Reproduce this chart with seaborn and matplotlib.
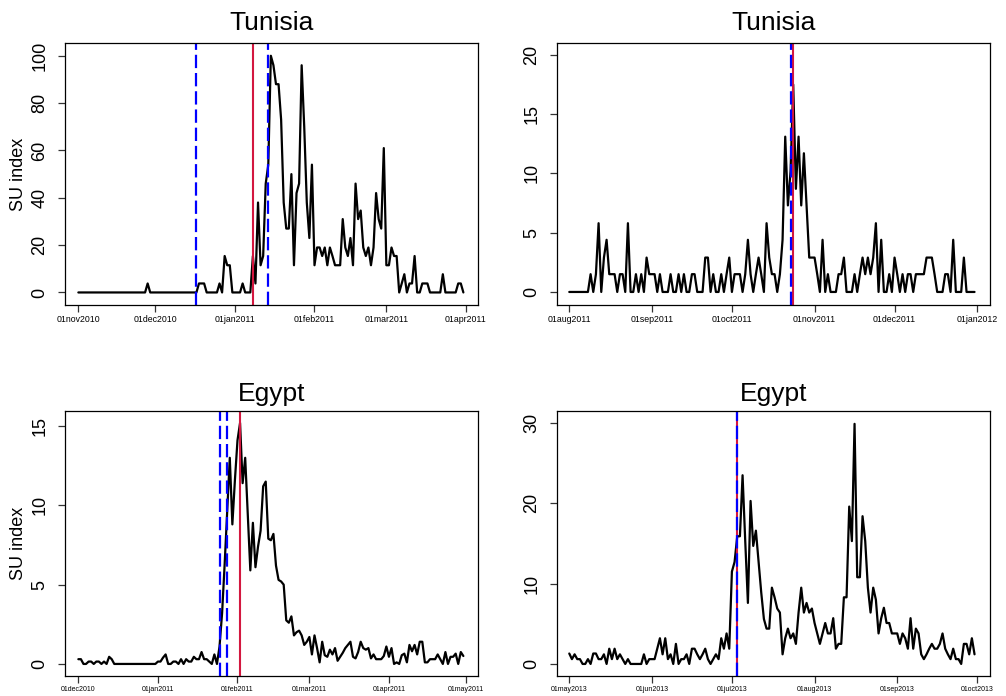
import numpy as np
import pandas as pd
import matplotlib
matplotlib.use("Agg")
import matplotlib.pyplot as plt
import seaborn as sns

# ---- data (daily SU index) ----
tun1_start = "2010-11-01"
tun1_vals = ([0.0] * 27 + [3.8] + [0.0] * 19 +
             [3.8, 3.8, 3.8, 0, 0, 0, 0, 0, 3.8, 0, 15.4, 11.5, 11.5, 0, 0, 0, 0, 3.8, 0, 0, 0,
              15.4, 3.8, 38, 11.5, 15.4, 46, 54, 100, 96, 88, 88, 73, 38, 27, 27, 50, 11.5, 42, 46,
              96, 70, 38, 23, 54, 11.5, 19, 19, 15.4, 19, 11.5, 19, 15.4, 11.5, 11.5, 11.5, 31, 19,
              15.4, 23, 11.5, 46, 31, 34.6, 19, 15.4, 19, 11.5, 19, 42, 31, 27, 61, 11.5, 11.5, 19,
              15.4, 15.4, 0, 3.8, 7.7, 0, 3.8, 3.8, 15.4, 0, 0, 3.8, 3.8, 3.8, 0, 0, 0, 0, 0, 7.7,
              0, 0, 0, 0, 0, 3.8, 3.8, 0])
tun1_blue = ["2010-12-17", "2011-01-14"]
tun1_red = ["2011-01-08"]
tun1_ticks = ["2010-11-01", "2010-12-01", "2011-01-01", "2011-02-01", "2011-03-01", "2011-04-01"]

tun2_start = "2011-08-01"
tun2_vals = ([0.0] * 8 +
             [1.5, 0, 1.5, 5.8, 0, 2.9, 4.4, 1.5, 1.5, 1.5, 0, 1.5, 1.5, 0, 5.8, 0, 0, 1.5, 0, 1.5,
              0, 2.9, 1.5, 1.5, 1.5, 0, 1.5, 0, 0, 0, 1.5, 0, 0, 1.5, 0, 1.5, 0, 0, 1.5, 1.5, 0, 0,
              0, 2.9, 2.9, 0, 1.5, 0, 0, 1.5, 0, 1.5, 2.9, 0, 1.5, 1.5, 1.5, 0, 1.5, 4.4, 1.5, 0,
              1.5, 2.9, 1.5, 0, 5.8, 2.9, 1.5, 1.5, 0, 1.5, 4.4, 13.1, 7.3, 10.2, 17.5, 8.7, 13.1,
              7.3, 11.7, 7.3, 2.9, 2.9, 2.9, 1.5, 0, 4.4, 0, 1.5, 0, 0, 0, 1.5, 1.5, 2.9, 0, 0, 0,
              1.5, 0, 1.5, 2.9, 1.5, 2.9, 1.5, 2.9, 5.8, 0, 4.4, 0, 0, 1.5, 0, 2.9, 1.5, 0, 1.5, 0,
              1.5, 1.5, 0, 1.5, 1.5, 1.5, 1.5, 2.9, 2.9, 2.9, 1.5, 0, 0, 0, 1.5, 1.5, 0, 4.4, 0, 0,
              0, 2.9, 0, 0, 0, 0])
tun2_blue = ["2011-10-23"]
tun2_red = ["2011-10-24"]
tun2_ticks = ["2011-08-01", "2011-09-01", "2011-10-01", "2011-11-01", "2011-12-01", "2012-01-01"]

egy1_start = "2010-12-01"
egy1_vals = ([0.3, 0.3, 0, 0, 0.15, 0.15, 0, 0.15, 0.15, 0, 0.15, 0, 0.45, 0.3] + [0.0] * 17 +
             [0.15, 0.15, 0.4, 0.6, 0, 0, 0.15, 0.15, 0, 0.3, 0, 0.3, 0.15, 0.15, 0.45, 0.3, 0.3,
              0.75, 0.3, 0.3, 0.15, 0, 0.6, 0, 1.1, 3.2, 6.3, 9.7, 13.0, 8.8, 11.6, 14.1, 15.2, 11.4,
              13.0, 9.5, 5.9, 8.9, 6.1, 7.4, 8.4, 11.2, 11.5, 7.9, 7.8, 8.2, 6.2, 5.3, 5.2, 5.0,
              2.75, 2.6, 3.0, 1.8, 2.0, 2.1, 1.8, 1.2, 1.4, 1.7, 0.6, 1.8, 1.0, 0.1, 1.4, 0.55,
              0.45, 0.9, 0.6, 1.0, 0.2, 0.45, 0.7, 1.0, 1.2, 1.4, 0.45, 0.35, 0.75, 1.4, 1.0, 0.9,
              1.0, 0.35, 0.6, 0.3, 0.3, 0.3, 0.5, 1.1, 0.45, 1.0, 0, 0.1, 0, 0.55, 0.65, 0.1, 1.2,
              0.8, 1.2, 0.6, 1.4, 1.4, 0.1, 0.1, 0.3, 0.3, 0.3, 0.6, 0.3, 0, 0.75, 0, 0.45, 0.45,
              0.65, 0, 0.75, 0.5])
egy1_blue = ["2011-01-25", "2011-01-28"]
egy1_red = ["2011-02-02"]
egy1_ticks = ["2010-12-01", "2011-01-01", "2011-02-01", "2011-03-01", "2011-04-01", "2011-05-01"]

egy2_start = "2013-05-01"
egy2_vals = [1.3, 0.6, 1.2, 0.6, 0.6, 0, 0, 0.6, 0, 1.3, 1.3, 0.6, 0.6, 1.2, 0, 1.9, 0.6, 1.9,
             0.6, 1.2, 0.6, 0, 0.6, 0, 0, 0, 0, 0, 1.2, 0, 0.6, 0.6, 0.6, 1.9, 3.2, 1.2, 3.2, 0.6,
             1.2, 0, 2.5, 0, 0.6, 0.6, 1.2, 0, 1.9, 1.9, 1.2, 0.6, 1.2, 1.9, 0.6, 0, 0.6, 1.2,
             0.6, 3.2, 1.9, 3.8, 1.9, 11.5, 12.7, 15.9, 15.9, 23.5, 15.3, 7.6, 20.3, 14.7, 16.6,
             12.7, 8.9, 5.6, 4.4, 4.4, 9.5, 8.3, 6.9, 6.4, 1.2, 3.2, 4.4, 3.2, 3.8, 2.5, 6.4, 9.5,
             6.4, 7.6, 6.4, 6.9, 5.1, 3.8, 2.5, 3.8, 5.1, 3.8, 3.8, 5.7, 1.9, 2.5, 2.5, 8.3, 8.3,
             19.6, 15.3, 29.9, 10.8, 10.8, 18.4, 15.3, 9.5, 6.4, 9.5, 8.0, 3.8, 5.7, 7.0, 5.1, 5.1,
             3.8, 3.8, 3.8, 2.5, 3.8, 3.2, 1.9, 5.7, 1.9, 4.4, 3.8, 1.2, 0.6, 1.2, 1.9, 2.5, 1.9,
             1.9, 2.5, 3.8, 1.9, 1.2, 0.6, 1.9, 0.6, 0.6, 0, 2.5, 2.5, 1.2, 3.2, 1.2]
egy2_blue = ["2013-07-03"]
egy2_red = ["2013-07-03"]
egy2_ticks = ["2013-05-01", "2013-06-01", "2013-07-01", "2013-08-01", "2013-09-01", "2013-10-01"]

titles = ["Tunisia", "Tunisia", "Egypt", "Egypt"]

sns.set_style("ticks")
plt.rcParams["font.family"] = ["Liberation Sans", "DejaVu Sans"]
plt.rcParams["text.color"] = "black"
plt.rcParams["axes.labelcolor"] = "black"
plt.rcParams["xtick.color"] = "black"
plt.rcParams["ytick.color"] = "black"

W, H = 1006, 696
fig = plt.figure(figsize=(W / 100, H / 100), dpi=100)

# axes boxes in pixels: left, top, right, bottom
boxes = [(65, 43, 478, 305), (557, 43, 990, 305), (65, 411, 478, 676), (557, 411, 990, 676)]
xlims = [(-5.2, 155.7), (-4.6, 157.8), (-5.2, 155.7), (-4.6, 157.8)]
ylims = [(-5.3, 105.4), (-1.1, 21.0), (-0.76, 15.95), (-1.5, 31.5)]
yticks = [[0, 20, 40, 60, 80, 100], [0, 5, 10, 15, 20], [0, 5, 10, 15], [0, 10, 20, 30]]
xfont = [6.3, 6.3, 5.0, 5.0]

panels = [
    (tun1_start, tun1_vals, tun1_blue, tun1_red, tun1_ticks),
    (tun2_start, tun2_vals, tun2_blue, tun2_red, tun2_ticks),
    (egy1_start, egy1_vals, egy1_blue, egy1_red, egy1_ticks),
    (egy2_start, egy2_vals, egy2_blue, egy2_red, egy2_ticks),
]

red = "#D3173F"
for i, (start, vals, blue, reds, ticks) in enumerate(panels):
    l, t, r, b = boxes[i]
    ax = fig.add_axes([l / W, 1 - b / H, (r - l) / W, (b - t) / H])
    d0 = pd.Timestamp(start)
    df = pd.DataFrame({"date": pd.date_range(d0, periods=len(vals), freq="D"), "su": vals})
    sns.lineplot(data=df, x="date", y="su", ax=ax, color="black", lw=1.6)

    for d in reds:
        ax.axvline(pd.Timestamp(d), color=red, lw=1.5)
    for d in blue:
        ax.axvline(pd.Timestamp(d), color="#0000FF", lw=1.6, ls=(0, (6, 2.2)))

    ax.set_xlim(d0 + pd.Timedelta(days=xlims[i][0]), d0 + pd.Timedelta(days=xlims[i][1]))
    ax.set_ylim(*ylims[i])
    tk = [pd.Timestamp(x) for x in ticks]
    ax.set_xticks(tk)
    ax.set_xticklabels([x.strftime("%d%b%Y").lower() for x in tk], fontsize=xfont[i])
    ax.set_yticks(yticks[i])
    ax.set_yticklabels([str(v) for v in yticks[i]], fontsize=13, rotation=90, va="center")
    ax.tick_params(axis="both", direction="out", length=5, width=0.9, color="#333333")
    ax.tick_params(axis="y", pad=7)
    ax.tick_params(axis="x", pad=2)
    for s in ax.spines.values():
        s.set_linewidth(0.9)
        s.set_color("black")
    ax.set_title(titles[i], fontsize=19, pad=9 if i < 2 else 7, color="black")
    ax.set_xlabel("")
    if i % 2 == 0:
        ax.set_ylabel("SU index", fontsize=13, labelpad=3)
    else:
        ax.set_ylabel("")

fig.savefig("out.png", dpi=100)
